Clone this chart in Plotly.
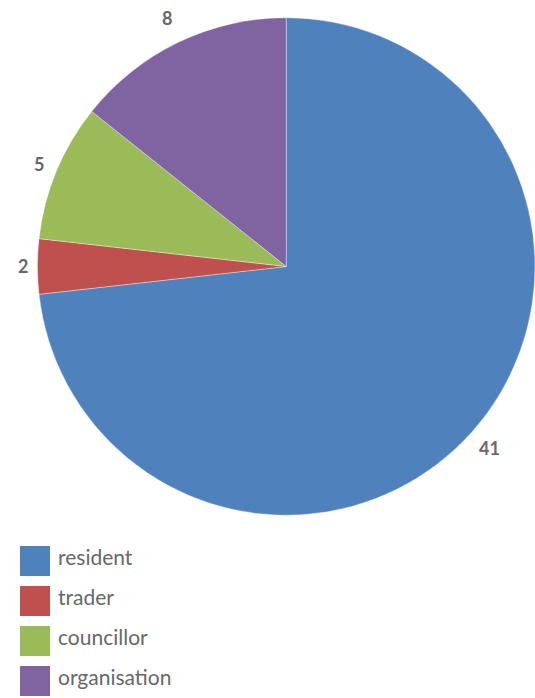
import math
import plotly.graph_objects as go

categories = ["resident", "trader", "councillor", "organisation"]
counts = [41, 2, 5, 8]
colors = ["#4F81BD", "#C0504D", "#9BBB59", "#8064A2"]

W, H = 535, 698
text_color = "#686868"

# pie placement (paper fractions)
dom_x = [0.07, 1.0]
dom_y = [0.2593, 0.9771]

fig = go.Figure(
    go.Pie(
        labels=categories,
        values=counts,
        sort=False,
        direction="clockwise",
        rotation=0,
        marker=dict(colors=colors, line=dict(color="rgba(255,255,255,0.6)", width=0.6)),
        textinfo="none",
        hoverinfo="label+value",
        showlegend=False,
        domain=dict(x=dom_x, y=dom_y),
    )
)

# value labels placed just outside each slice, at the slice's mid angle
cx = (dom_x[0] + dom_x[1]) / 2 * W
cy = (1 - (dom_y[0] + dom_y[1]) / 2) * H
radius = min((dom_x[1] - dom_x[0]) * W, (dom_y[1] - dom_y[0]) * H) / 2
total = sum(counts)
cum = 0
annotations = []
for v in counts:
    mid = (cum + v / 2) / total * 2 * math.pi
    cum += v
    # text boxes are taller than wide, so push further out near top/bottom
    label_r = radius + 14 + 14 * abs(math.cos(mid))
    px = cx + label_r * math.sin(mid)
    py = cy - label_r * math.cos(mid)
    annotations.append(dict(
        x=px / W, y=1 - py / H, xref="paper", yref="paper",
        text=str(v), showarrow=False, xanchor="center", yanchor="middle",
        font=dict(family="Lato", size=18, color=text_color, weight="bold"),
    ))

# legend: colour squares with category names
shapes = []
sq = 30
left, top0, step = 20, 546, 40
for i, (name, col) in enumerate(zip(categories, colors)):
    top = top0 + i * step
    shapes.append(dict(
        type="rect", xref="paper", yref="paper",
        x0=left / W, x1=(left + sq) / W,
        y0=1 - (top + sq) / H, y1=1 - top / H,
        fillcolor=col, line=dict(width=0),
    ))
    annotations.append(dict(
        x=(left + sq + 6) / W, y=1 - (top + sq / 2 - 5) / H,
        xref="paper", yref="paper", text=name, showarrow=False,
        xanchor="left", yanchor="middle",
        font=dict(family="Lato", size=21, color=text_color),
    ))

fig.update_layout(
    width=W, height=H,
    margin=dict(l=0, r=0, t=0, b=0),
    paper_bgcolor="white", plot_bgcolor="white",
    annotations=annotations, shapes=shapes,
)

fig.write_html("out.html")
